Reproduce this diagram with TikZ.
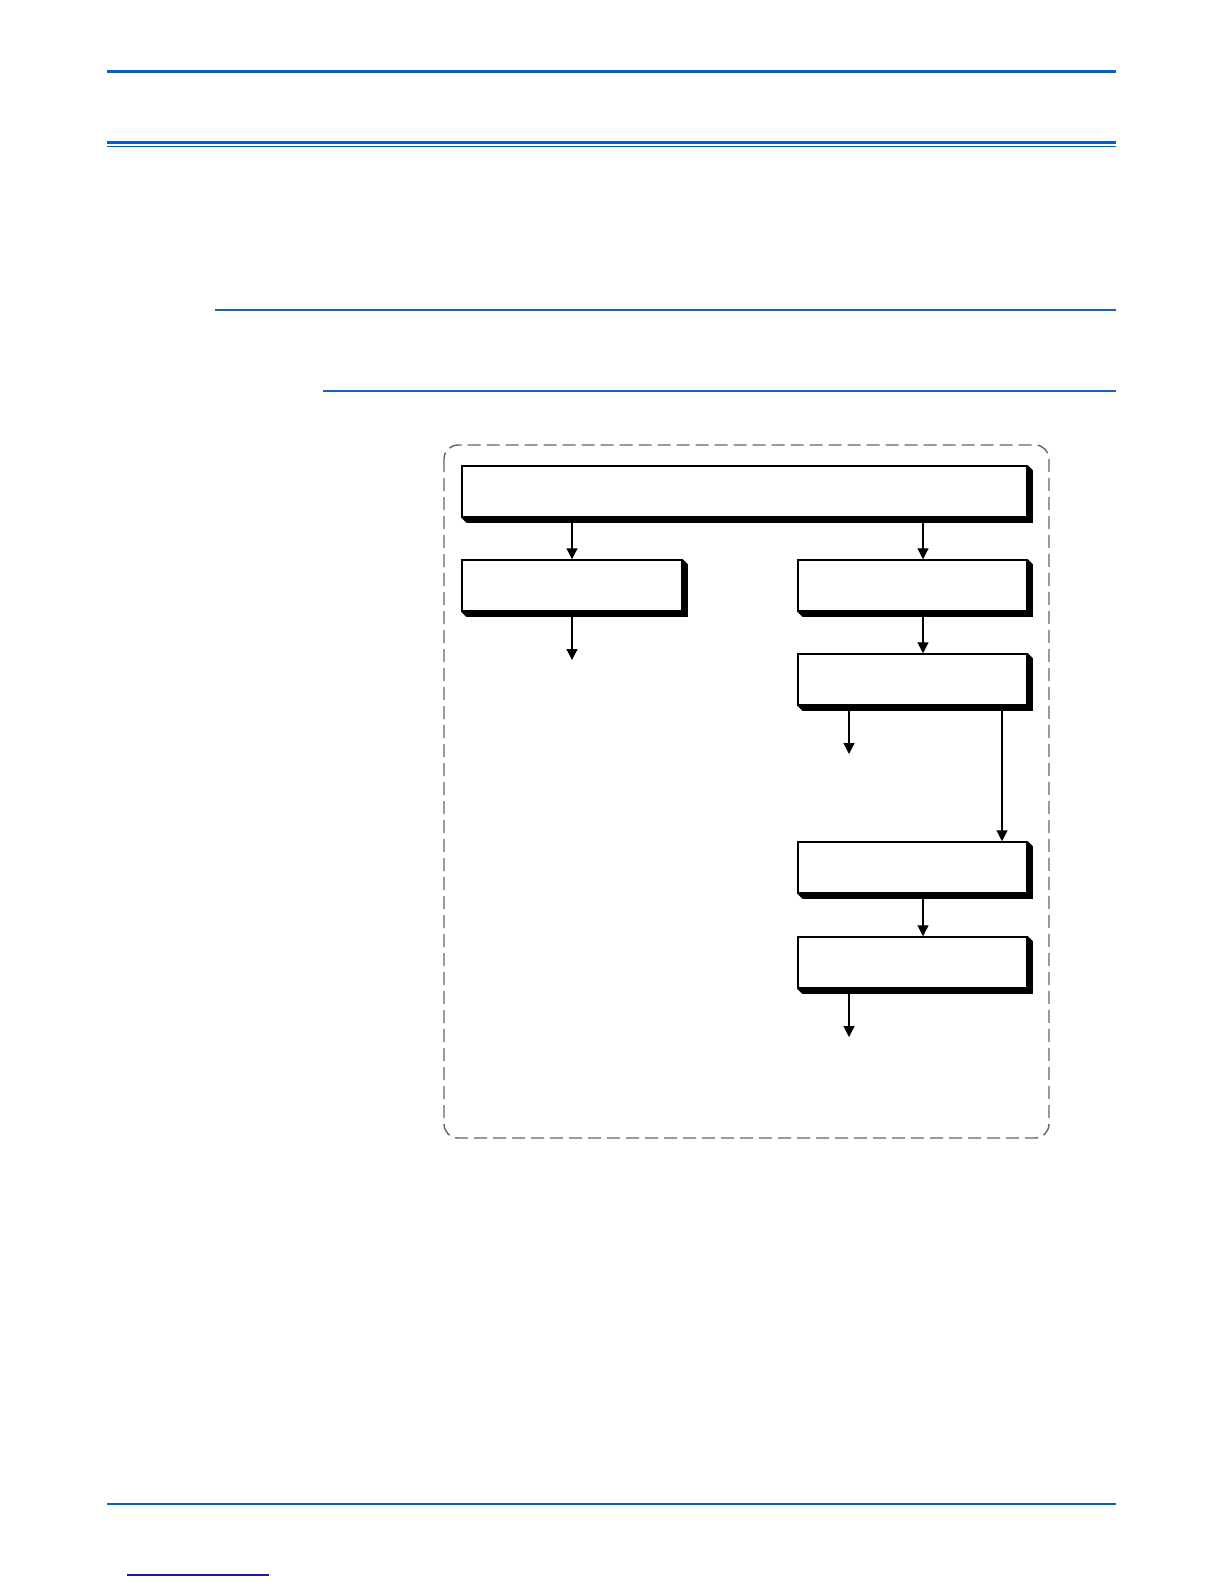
\documentclass[tikz,border=0pt]{standalone}
\usetikzlibrary{arrows.meta,backgrounds}
\definecolor{rulblue}{RGB}{10,95,196}
\definecolor{barblue}{RGB}{0,96,216}
\definecolor{secblue}{RGB}{26,98,184}
\definecolor{linkblue}{RGB}{26,26,154}
\definecolor{framegray}{RGB}{100,100,100}
\begin{document}
\begin{tikzpicture}[x=0.5pt,y=-0.5pt,->,>={Triangle[length=5.5pt,width=5.5pt]},
    line width=0.6pt,
    stage node/.style={rectangle,fill=white,draw,line width=0.75pt,
      inner sep=0pt,minimum height=25.5pt,minimum width=114.5pt},
    page rule/.style={-,draw=rulblue}]
    \useasboundingbox (0,0) rectangle (1224,1584);

    % page rules
    \draw[page rule,line width=1.5pt] (107,72) -- (1116,72);
    \draw[page rule,draw=barblue,line width=1.75pt] (107,142.5) -- (1116,142.5);
    \draw[page rule,draw=barblue,line width=0.6pt] (107,146.5) -- (1116,146.5);
    \draw[page rule,draw=secblue,line width=1.25pt] (215,310) -- (1116,310);
    \draw[page rule,draw=secblue,line width=0.65pt] (323,391) -- (1116,391);
    \draw[page rule,line width=1.3pt] (107,1504) -- (1116,1504);
    \draw[page rule,draw=linkblue,line width=0.6pt] (127,1575) -- (269,1575);

    % dashed frame
    \draw[-,framegray,line width=0.7pt,dash pattern=on 6.5pt off 3pt,rounded corners=7pt]
      (444,445) rectangle (1049,1138);

    \node[stage node,minimum width=282.5pt] (TOP) at (744.5,491.5) {};
    \node[stage node,minimum width=110pt] (L1) at (572,585.5) {};
    \node[stage node] (R1) at (912.5,585.5) {};
    \node[stage node] (R2) at (912.5,679.5) {};
    \node[stage node] (R3) at (912.5,867.5) {};
    \node[stage node] (R4) at (912.5,962.5) {};

    \begin{scope}[on background layer]
      \foreach \n in {TOP,L1,R1,R2,R3,R4}
        \fill[-,black] (\n.south west) -- ++(5,5) -| ([shift={(5,5)}]\n.north east)
          -- (\n.north east) -- cycle;
    \end{scope}

    \coordinate (RC) at (923,0);
    \coordinate (RX) at (1002,0);
    \coordinate (L1end) at (572,660);
    \coordinate (R2end) at (849,754);
    \coordinate (R4end) at (849,1037);

    \path
    (TOP.south -| L1) edge (L1.north)
    (TOP.south -| RC) edge (R1.north -| RC)
    (L1.south) edge (L1end)
    (R1.south -| RC) edge (R2.north -| RC)
    (R2.south -| R2end) edge (R2end)
    (R2.south -| RX) edge (R3.north -| RX)
    (R3.south -| RC) edge (R4.north -| RC)
    (R4.south -| R4end) edge (R4end)
    ;
  \end{tikzpicture}
\end{document}
